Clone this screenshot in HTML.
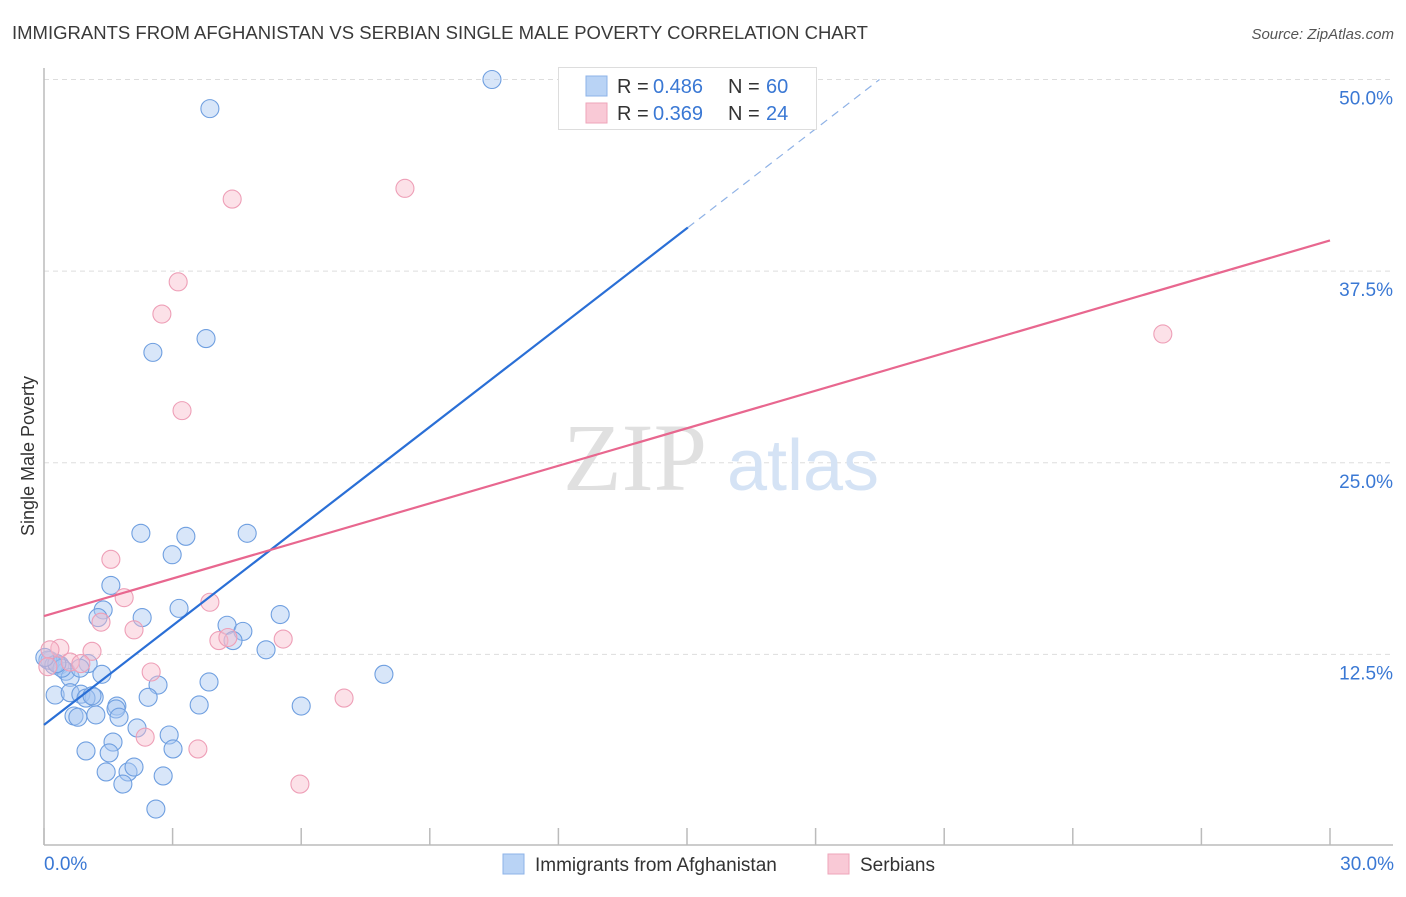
<!DOCTYPE html>
<html><head><meta charset="utf-8"><style>
body{margin:0;background:#fff;font-family:"Liberation Sans",sans-serif;}
svg text{font-family:"Liberation Sans",sans-serif;}
</style></head><body>
<svg id="chart" width="1406" height="892" viewBox="0 0 1406 892" xmlns="http://www.w3.org/2000/svg">
<text x="12" y="39" font-size="18" fill="#3a3a3a" textLength="856" lengthAdjust="spacingAndGlyphs">IMMIGRANTS FROM AFGHANISTAN VS SERBIAN SINGLE MALE POVERTY CORRELATION CHART</text>
<text x="1394" y="39" font-size="15" fill="#555" text-anchor="end" font-style="italic">Source: ZipAtlas.com</text>
<g id="grid"></g>
<g>
<text x="635" y="490" font-size="96" fill="#e0e0e0" text-anchor="middle" style="font-family:'Liberation Serif',serif">ZIP</text>
<text x="803" y="490" font-size="72" fill="#d5e3f5" text-anchor="middle">atlas</text>
</g>
<line x1="44" y1="68" x2="44" y2="845" stroke="#bbb" stroke-width="1.5"/>
<line x1="44" y1="845" x2="1393" y2="845" stroke="#bbb" stroke-width="1.5"/>
<g id="xticks"></g>
<g id="ylabels"></g>
<text x="44" y="870" font-size="19" fill="#3a78d4">0.0%</text>
<text x="1394" y="870" font-size="19" fill="#3a78d4" text-anchor="end">30.0%</text>
<text transform="translate(34,456) rotate(-90)" font-size="18" fill="#333" text-anchor="middle">Single Male Poverty</text>
<g id="pts"></g>
<g id="lines"></g>
<g>
<rect x="558.5" y="67.5" width="258" height="62" fill="#fff" stroke="#ddd"/>
<rect x="586" y="76" width="21" height="20" fill="#b9d3f5" stroke="#8db3e8"/>
<rect x="586" y="103" width="21" height="20" fill="#f9c9d6" stroke="#eea5ba"/>
<text x="617" y="93" font-size="20" fill="#333">R =</text>
<text x="653" y="93" font-size="20" fill="#3a78d4">0.486</text>
<text x="728" y="93" font-size="20" fill="#333">N =</text>
<text x="766" y="93" font-size="20" fill="#3a78d4">60</text>
<text x="617" y="120" font-size="20" fill="#333">R =</text>
<text x="653" y="120" font-size="20" fill="#3a78d4">0.369</text>
<text x="728" y="120" font-size="20" fill="#333">N =</text>
<text x="766" y="120" font-size="20" fill="#3a78d4">24</text>
</g>
<g>
<rect x="503" y="854" width="21" height="20" fill="#b9d3f5" stroke="#8db3e8"/>
<text x="535" y="871" font-size="19" fill="#333">Immigrants from Afghanistan</text>
<rect x="828" y="854" width="21" height="20" fill="#f9c9d6" stroke="#eea5ba"/>
<text x="860" y="871" font-size="19" fill="#333">Serbians</text>
</g>
</svg>
<script>
const yTicks=[12.5,25,37.5,50];
const yTickLabels=["12.5%","25.0%","37.5%","50.0%"];
const xTicks=[0,3,6,9,12,15,18,21,24,27,30];
const blueX=[10.45,3.87,3.78,2.54,2.26,4.74,3.31,2.99,1.56,1.38,3.15,1.26,2.29,5.51,4.27,4.64,4.41,5.18,0.14,0.37,1.03,0.51,0.61,1.35,7.93,2.66,3.85,0.26,0.61,0.86,1.17,0.98,2.43,1.70,1.68,3.62,6.0,0.70,1.21,0.79,1.75,2.17,2.92,1.61,0.98,1.52,3.01,1.45,1.96,2.10,1.84,2.78,2.61,0.09,0.23,0.42,0.30,1.12,0.02,0.84];
const blueY=[50.0,48.1,33.1,32.2,20.4,20.4,20.2,19.0,17.0,15.4,15.5,14.9,14.9,15.1,14.4,14.0,13.4,12.8,12.1,11.8,11.9,11.4,11.0,11.2,11.2,10.5,10.7,9.85,10.0,9.9,9.7,9.65,9.7,9.13,8.94,9.2,9.13,8.48,8.55,8.4,8.4,7.7,7.24,6.78,6.2,6.07,6.33,4.83,4.83,5.15,4.04,4.57,2.41,12.13,11.8,11.6,11.9,9.8,12.3,11.6];
const pinkX=[8.42,4.39,3.13,2.75,3.22,1.56,1.87,3.87,1.33,2.10,4.08,4.29,5.58,0.37,0.14,1.12,0.09,0.61,0.86,2.50,7.0,2.36,3.59,5.97,26.1];
const pinkY=[42.9,42.2,36.8,34.7,28.4,18.7,16.2,15.9,14.6,14.1,13.4,13.6,13.5,12.9,12.8,12.7,11.7,12.0,11.9,11.35,9.65,7.1,6.33,4.04,33.4];
const blueTrend=[7.9,2.16];
const pinkTrend=[15.0,39.5];

const NS="http://www.w3.org/2000/svg";
const X=v=>44+v*(1286/30);
const Y=v=>846-v*15.33;
function mk(tag,attrs,parent){const e=document.createElementNS(NS,tag);for(const k in attrs)e.setAttribute(k,attrs[k]);parent.appendChild(e);return e;}
const grid=document.getElementById('grid'),yl=document.getElementById('ylabels'),xt=document.getElementById('xticks');
yTicks.forEach((t,i)=>{
 const l=mk('line',{x1:44,x2:1393,y1:Y(t),y2:Y(t),stroke:'#ddd','stroke-dasharray':'5,4'},grid);
 
 
 const tx=mk('text',{x:1393,y:Y(t)+25,'font-size':19,fill:'#3a78d4','text-anchor':'end'},yl);
 tx.textContent=yTickLabels[i];
 
 
});
xTicks.forEach(t=>{
 const l=mk('line',{x1:X(t),x2:X(t),y1:828,y2:845,stroke:'#bbb','stroke-width':1.5},xt);
 
 
});
const pts=document.getElementById('pts');
blueX.forEach((v,i)=>{
 const c=mk('circle',{cx:X(v),cy:Y(blueY[i]),r:9,fill:'rgba(168,200,242,0.45)',stroke:'#6f9fe0','stroke-width':1.1},pts);
 
 
});
pinkX.forEach((v,i)=>{
 const c=mk('circle',{cx:X(v),cy:Y(pinkY[i]),r:9,fill:'rgba(248,188,204,0.45)',stroke:'#ee9fb7','stroke-width':1.1},pts);
 
 
});
const lines=document.getElementById('lines');
const bEnd=15.02,bMax=(50-blueTrend[0])/blueTrend[1];
const b1=mk('line',{x1:X(0),y1:Y(blueTrend[0]),x2:X(bEnd),y2:Y(blueTrend[0]+blueTrend[1]*bEnd),stroke:'#2a6fd6','stroke-width':2.2},lines);


const b2=mk('line',{x1:X(bEnd),y1:Y(blueTrend[0]+blueTrend[1]*bEnd),x2:X(bMax),y2:Y(50),stroke:'#8fb2e6','stroke-width':1.2,'stroke-dasharray':'8,6'},lines);


const p1=mk('line',{x1:X(0),y1:Y(pinkTrend[0]),x2:X(30),y2:Y(pinkTrend[1]),stroke:'#e8678f','stroke-width':2.2},lines);


</script>
</body></html>
